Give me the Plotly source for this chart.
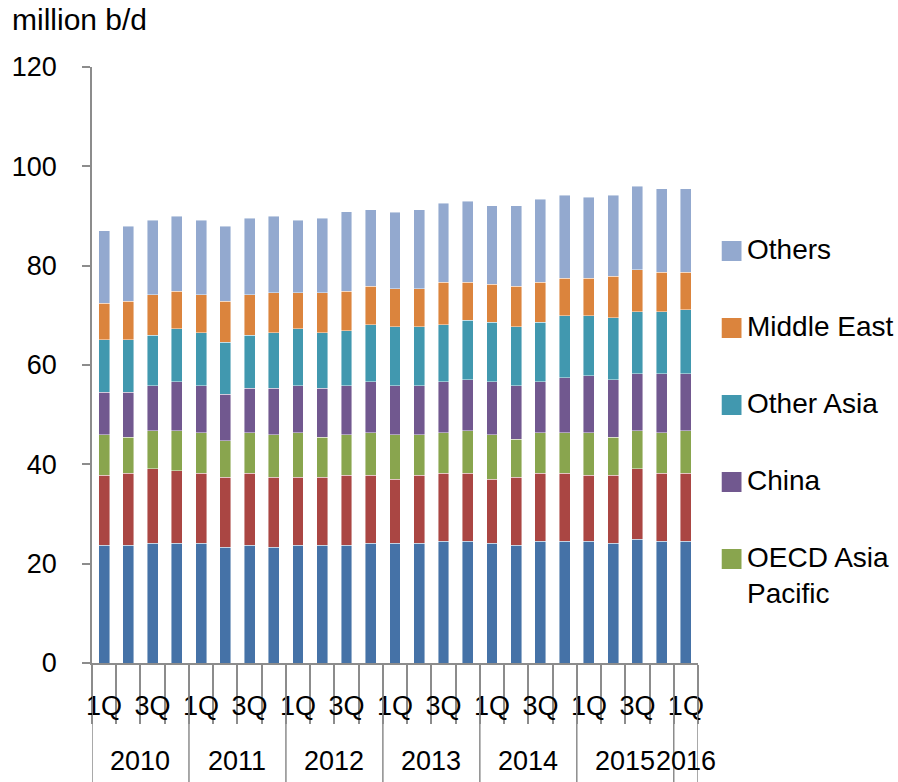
import plotly.graph_objects as go

quarters = ["1Q", "2Q", "3Q", "4Q"] * 6 + ["1Q"]
years = ["2010", "2011", "2012", "2013", "2014", "2015", "2016"]
year_sizes = [4, 4, 4, 4, 4, 4, 1]

oecd_americas = [23.7, 23.7, 24.1, 24.1, 24.1, 23.3, 23.7, 23.3, 23.7, 23.7, 23.7, 24.1, 24.1,
                 24.1, 24.5, 24.5, 24.1, 23.7, 24.5, 24.5, 24.5, 24.1, 24.9, 24.5, 24.5]
oecd_europe = [14.1, 14.5, 15.0, 14.6, 14.1, 14.1, 14.5, 14.1, 13.7, 13.7, 14.1, 13.7, 12.9,
               13.7, 13.7, 13.7, 12.9, 13.7, 13.7, 13.7, 13.3, 13.7, 14.2, 13.7, 13.7]
oecd_asia_pacific = [8.2, 7.3, 7.7, 8.1, 8.2, 7.3, 8.2, 8.6, 9.0, 8.1, 8.2, 8.6, 9.0,
                     8.2, 8.2, 8.6, 9.0, 7.7, 8.2, 8.2, 8.6, 7.7, 7.7, 8.2, 8.6]
china = [8.5, 9.0, 9.0, 9.8, 9.4, 9.4, 8.9, 9.3, 9.4, 9.8, 9.8, 10.2, 9.8,
         9.8, 10.2, 10.2, 10.6, 10.7, 10.2, 11.0, 11.4, 11.5, 11.4, 11.8, 11.4]
other_asia = [10.6, 10.6, 10.2, 10.7, 10.7, 10.5, 10.7, 11.2, 11.5, 11.2, 11.1, 11.5, 11.9,
              11.9, 11.5, 12.0, 12.0, 11.9, 12.0, 12.5, 12.1, 12.5, 12.5, 12.5, 12.9]
middle_east = [7.3, 7.7, 8.1, 7.6, 7.6, 8.2, 8.1, 8.0, 7.2, 8.0, 8.0, 7.8, 7.7,
               7.7, 8.6, 7.7, 7.7, 8.2, 8.1, 7.6, 7.6, 8.4, 8.5, 8.0, 7.6]
others = [14.6, 15.1, 15.0, 15.1, 15.0, 15.1, 15.4, 15.5, 14.6, 15.0, 16.0, 15.4, 15.4,
          15.9, 15.9, 16.3, 15.8, 16.2, 16.7, 16.7, 16.3, 16.3, 16.8, 16.8, 16.8]

series = [
    ("OECD Americas", oecd_americas, "#4572A7", False),
    ("OECD Europe", oecd_europe, "#AA4643", False),
    ("OECD Asia<br>Pacific", oecd_asia_pacific, "#89A54E", True),
    ("China", china, "#71588F", True),
    ("Other Asia", other_asia, "#4198AF", True),
    ("Middle East", middle_east, "#DB843D", True),
    ("Others", others, "#93A9CF", True),
]

FONT = "Liberation Sans"
GRAY = "#8c8c8c"
W, H = 898, 782
ML, MR, MT, MB = 85, 200, 67, 119
PW, PH = W - ML - MR, H - MT - MB
idx = list(range(len(quarters)))


def px_x(p):
    return (p - ML) / PW


def px_y(p):
    return (H - MB - p) / PH


fig = go.Figure()
for name, vals, color, _ in series:
    fig.add_trace(go.Bar(
        x=idx, y=vals, name=name.replace("<br>", " "), marker_color=color,
        marker_line=dict(color="rgba(255,255,255,0.55)", width=0.8),
        showlegend=False,
    ))

# legend (top to bottom as in the reference)
row = 251
for name, vals, color, show in reversed(series):
    if not show:
        continue
    fig.add_shape(type="rect", xref="paper", yref="paper",
                  x0=px_x(722), x1=px_x(742), y0=px_y(row + 10), y1=px_y(row - 10),
                  fillcolor=color, line=dict(width=0))
    fig.add_annotation(x=px_x(746), y=px_y(row - 19), xref="paper", yref="paper",
                       text=name, showarrow=False, align="left",
                       font=dict(family=FONT, size=28, color="black"),
                       xanchor="left", yanchor="top")
    row += 77

# year dividers and labels
boundaries = [-0.5]
for s in year_sizes:
    boundaries.append(boundaries[-1] + s)
for b in boundaries:
    fig.add_shape(type="line", xref="x", yref="paper", x0=b, x1=b, y0=0, y1=-0.21,
                  line=dict(color=GRAY, width=1.5))
for i, y in enumerate(years):
    c = (boundaries[i] + boundaries[i + 1]) / 2
    fig.add_annotation(x=c, y=-0.164, xref="x", yref="paper", text=y, showarrow=False,
                       font=dict(family=FONT, size=27, color="black"),
                       xanchor="center", yanchor="middle")

fig.add_annotation(x=-0.135, y=1.079, xref="paper", yref="paper", text="million b/d",
                   showarrow=False, font=dict(family=FONT, size=30, color="black"),
                   xanchor="left", yanchor="middle")

shown = [i for i in idx if i % 2 == 0]
fig.update_layout(
    width=W, height=H,
    margin=dict(l=ML, r=MR, t=MT, b=MB),
    barmode="stack", bargap=0.55, showlegend=False,
    plot_bgcolor="white", paper_bgcolor="white",
    font=dict(family=FONT, size=27, color="black"),
    xaxis=dict(
        range=[-0.5, len(idx) - 0.5], showgrid=False, zeroline=False,
        showline=True, linecolor=GRAY, linewidth=1.5,
        tickmode="array", tickvals=shown, ticktext=[quarters[i] for i in shown],
        ticks="", ticklabelstandoff=18,
        minor=dict(tickmode="array", tickvals=[i - 0.5 for i in range(len(idx) + 1)],
                   ticks="outside", ticklen=59, tickcolor=GRAY, tickwidth=1.5),
    ),
    yaxis=dict(
        range=[0, 120], dtick=20, showgrid=False, zeroline=False,
        showline=True, linecolor=GRAY, linewidth=1.5,
        ticks="outside", ticklen=8, tickcolor=GRAY, tickwidth=1.5,
        ticklabelstandoff=20,
    ),
)

fig.write_html("out.html")
